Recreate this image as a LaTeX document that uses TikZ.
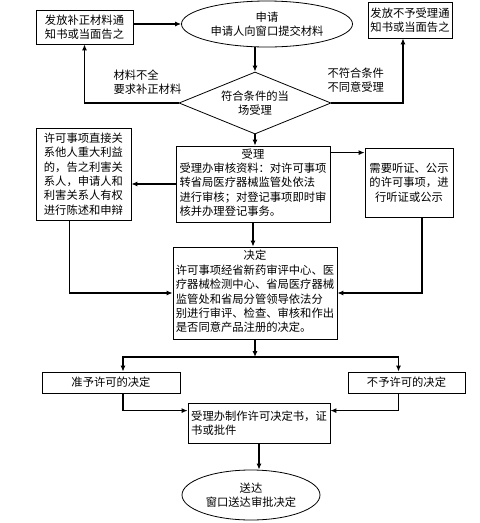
\documentclass[tikz,border=0pt]{standalone}
\usepackage{fontspec}
\setmainfont{Noto Sans CJK SC}
\usetikzlibrary{shapes.geometric, arrows.meta}

\begin{document}
\begin{tikzpicture}[x = 1pt, y = -1pt,
	font = \fontsize{11.3}{14.4}\selectfont,
	box/.style = {draw, line width = 0.8pt, inner sep = 2pt},
	oval/.style = {draw, ellipse, line width = 0.8pt, inner sep = 0pt, align = center},
	arr/.style = {line width = 1.1pt, -{Latex[length = 6pt, width = 5pt]}}
]
\useasboundingbox[fill = white] (0, 0) rectangle (480, 523);

\node[oval, minimum width = 171, minimum height = 46] (apply) at (267, 24) {申请\\申请人向窗口提交材料};
\node[box, align = left, minimum width = 97, minimum height = 34] (notice) at (84.5, 27) {发放补正材料通\\知书或当面告之};
\node[box, align = left, minimum width = 84, minimum height = 36] (refuse) at (410, 20) {发放不予受理通\\知书或当面告之};
\node[draw, diamond, line width = 0.8pt, aspect = 2.45, inner sep = 0pt, minimum width = 152, minimum height = 62, align = center] (check) at (255, 103) {符合条件的当\\场受理};
\node[anchor = west, align = left] (short) at (110, 82) {材料不全\\要求补正材料};
\node[anchor = west, align = left] (unfit) at (324, 80) {不符合条件\\不同意受理};

\node[box, minimum width = 154, minimum height = 76] (accept) at (253, 184) {\begin{tabular}{@{}l@{}}
	\multicolumn{1}{@{}c@{}}{受理}\\
	受理办审核资料：对许可事项\\
	转省局医疗器械监管处依法\\
	进行审核；对登记事项即时审\\
	核并办理登记事务。
\end{tabular}};
\node[box, align = left, minimum width = 95, minimum height = 92] (inform) at (83.5, 174) {许可事项直接关\\系他人重大利益\\的，告之利害关\\系人，申请人和\\利害关系人有权\\进行陈述和申辩};
\node[box, align = center, minimum width = 88, minimum height = 69] (hearing) at (409, 182.5) {需要听证、公示\\的许可事项，进\\行听证或公示};

\node[box, minimum width = 164, minimum height = 92] (decide) at (255, 293) {\begin{tabular}{@{}l@{}}
	\multicolumn{1}{@{}c@{}}{决定}\\
	许可事项经省新药审评中心、医\\
	疗器械检测中心、省局医疗器械\\
	监管处和省局分管领导依法分\\
	别进行审评、检查、审核和作出\\
	是否同意产品注册的决定。
\end{tabular}};

\node[box, minimum width = 138, minimum height = 21] (grant) at (111, 382.5) {准予许可的决定};
\node[box, minimum width = 117, minimum height = 21] (deny) at (406.5, 382.5) {不予许可的决定};
\node[box, align = left, minimum width = 142, minimum height = 40] (issue) at (259, 423) {受理办制作许可决定书，证\\书或批件};
\node[oval, minimum width = 138, minimum height = 50] (deliver) at (251, 495) {送达\\窗口送达审批决定};

\draw[arr] (notice.east |- apply.west) -- (apply.west);
\draw[arr] (check.north |- apply.south) -- (check.north);
\draw[arr] (check.west) -| (notice.south);
\draw[arr] (check.east) -| ([xshift = -7pt]refuse.south);
\draw[arr] (check.south) -- (check.south |- accept.north);

\coordinate (tohear) at ([yshift = -7pt]accept.north east);
\draw[arr] (accept.west) -- (accept.west -| inform.east);
\draw[arr] (tohear) -- (tohear -| hearing.west);
\draw[arr] (accept.south) -- (accept.south |- decide.north);
\draw[arr] ([xshift = -14pt]inform.south) |- (decide.west);
\draw[arr] ([xshift = 13pt]hearing.south) |- (decide.east);

\coordinate (split) at (255, 357);
\draw[arr] (decide.south) -- (split);
\draw[arr] (split) -| ([xshift = 12pt]grant.north);
\draw[arr] (split) -| ([xshift = -8pt]deny.north);
\draw[arr] ([xshift = 12pt]grant.south) |- ([yshift = -8pt]issue.north west);
\draw[arr] ([xshift = -8pt]deny.south) |- ([yshift = -8pt]issue.north east);
\draw[arr] (issue.south) -- (issue.south |- deliver.north);
\end{tikzpicture}
\end{document}
